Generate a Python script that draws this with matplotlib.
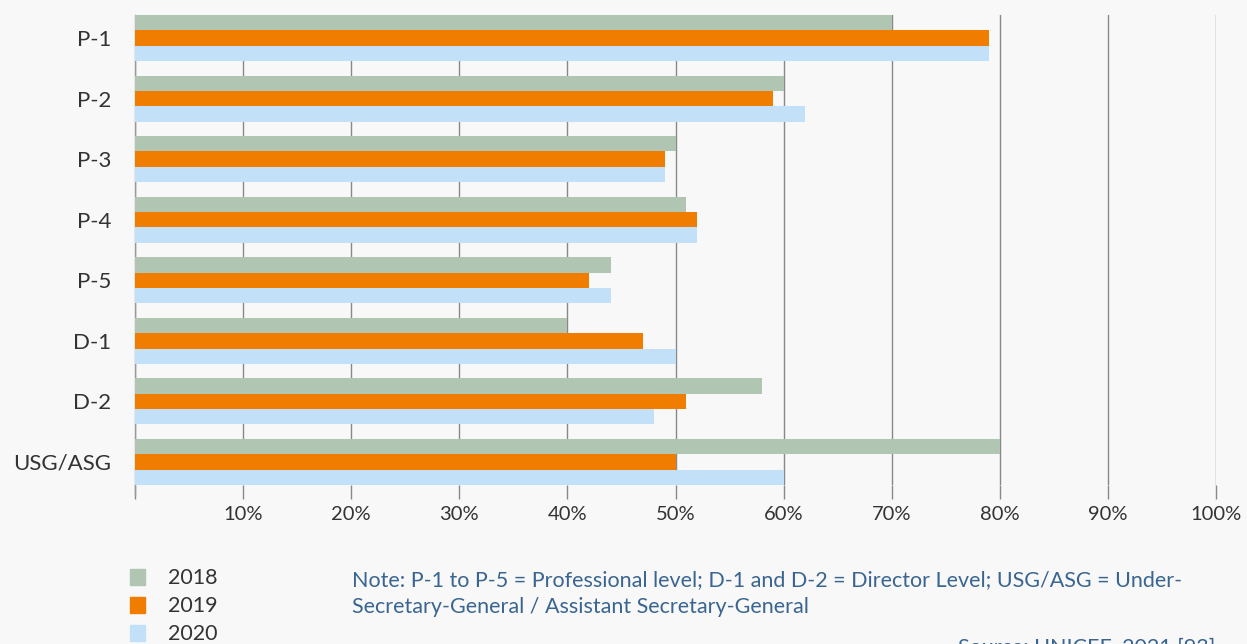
import matplotlib
matplotlib.use("Agg")
import matplotlib.pyplot as plt
import numpy as np
from matplotlib.patches import Rectangle

categories = ["P-1", "P-2", "P-3", "P-4", "P-5", "D-1", "D-2", "USG/ASG"]
years = ["2018", "2019", "2020"]
v2018 = [70, 60, 50, 51, 44, 40, 58, 80]
v2019 = [79, 59, 49, 52, 42, 47, 51, 50]
v2020 = [79, 62, 49, 52, 44, 50, 48, 60]
xticks = [0, 10, 20, 30, 40, 50, 60, 70, 80, 90, 100]
xticklabels = ["", "10%", "20%", "30%", "40%", "50%", "60%", "70%", "80%", "90%", "100%"]

colors = ["#b0c5b2", "#f07d00", "#c2e0f7"]
bg = "#f8f8f8"
note_color = "#3a6591"
text_color = "#333333"
plt.rcParams['font.family'] = ['Lato', 'DejaVu Sans']

W, H = 1247, 644
fig = plt.figure(figsize=(W / 100, H / 100), dpi=100, facecolor=bg)
ax = fig.add_axes([135 / W, 1 - 485 / H, (1216 - 135) / W, 470 / H])
ax.set_facecolor(bg)

y = np.arange(len(categories))
bh = 0.254
for i, vals in enumerate([v2018, v2019, v2020]):
    ax.barh(y + (i - 1) * bh, vals, height=bh, color=colors[i], zorder=3, linewidth=0)

ax.set_xlim(0, 100)
ax.set_ylim(len(categories) - 1 + 1.5 * bh, -1.5 * bh)
ax.set_xticks(xticks)
ax.set_xticklabels(xticklabels, fontsize=14.5, color=text_color)
ax.set_yticks(y)
ax.set_yticklabels(categories, fontsize=16, color=text_color)
ax.tick_params(axis='y', length=0, pad=17)
ax.tick_params(axis='x', length=10, width=1, color="#888888", pad=5)
ax.xaxis.grid(True, color="#888888", linewidth=1, zorder=0)
for s in ["top", "right", "bottom"]:
    ax.spines[s].set_visible(False)
ax.spines["left"].set_color("#999999")
ax.spines["left"].set_linewidth(1)
ax.spines["left"].set_bounds(len(categories) - 1 + 1.5 * bh + 0.16, -1.5 * bh)

# legend
ly = [577, 605, 633]
for i, yr in enumerate(years):
    fig.patches.append(Rectangle((130 / W, 1 - (ly[i] + 8) / H), 15 / W, 16 / H,
                                 transform=fig.transFigure, color=colors[i], figure=fig))
    fig.text(168 / W, 1 - (ly[i] + 1) / H, yr, fontsize=15.5, color=text_color, va="center", ha="left")

fs_note = 15.5
fig.text(352 / W, 1 - 580 / H,
         "Note: P-1 to P-5 = Professional level; D-1 and D-2 = Director Level; USG/ASG = Under-",
         fontsize=fs_note, color=note_color, va="center", ha="left")
fig.text(352 / W, 1 - 607 / H,
         "Secretary-General / Assistant Secretary-General",
         fontsize=fs_note, color=note_color, va="center", ha="left")
fig.text(958 / W, 1 - 648 / H, "Source: UNICEF, 2021 [93]",
         fontsize=fs_note, color=note_color, va="center", ha="left")

fig.savefig("out.png", dpi=100, facecolor=bg)
